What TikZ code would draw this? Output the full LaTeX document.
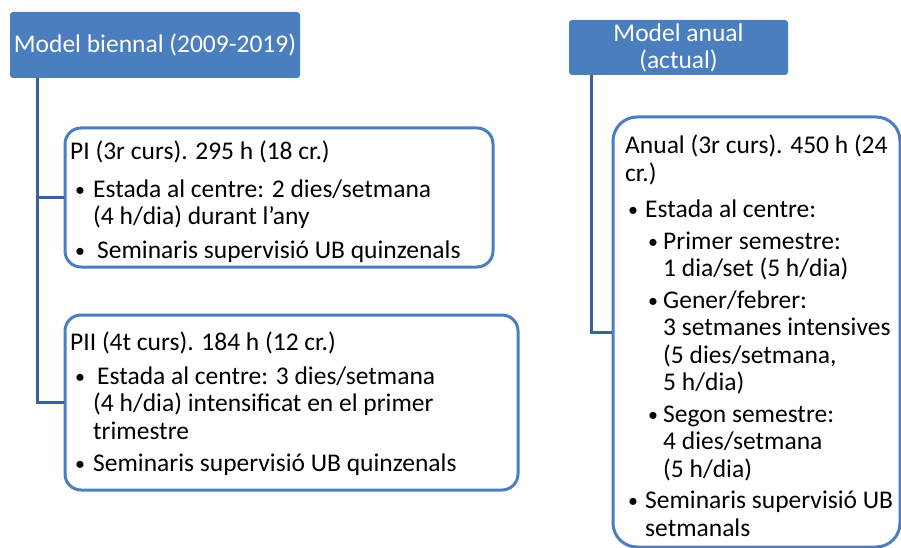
\documentclass[tikz,border=0pt]{standalone}
\usepackage{fontspec}
\setmainfont{Carlito}
\usetikzlibrary{positioning}
\definecolor{hdrblue}{RGB}{74,126,190}
\definecolor{edgeblue}{RGB}{74,126,193}
\definecolor{linkblue}{RGB}{58,98,150}
\newcommand{\bull}[2]{\makebox[#1][r]{\makebox[#2][l]{\raisebox{1pt}{\fontsize{20}{20}\selectfont\textbullet}}}}
\newcommand{\indt}[1]{\makebox[#1]{}}
\tikzset{
  hdr/.style={fill=hdrblue, rounded corners=3pt, text=white, align=center, inner sep=0pt,
    font=\fontsize{25.5}{27}\selectfont},
  card/.style={draw=edgeblue, line width=3pt, inner sep=0pt},
  txt/.style={anchor=north west, align=left, inner sep=0pt, text=black,
    font=\fontsize{25.5}{27.5}\selectfont},
  link/.style={draw=linkblue, line width=3pt},
}
\begin{document}
\begin{tikzpicture}[x=1pt,y=-1pt]
\useasboundingbox (0,0) rectangle (901,548);
\node[hdr, minimum width=290pt, minimum height=66pt] (bienn) at (155,45) {Model biennal (2009-2019)};
\node[hdr, minimum width=219pt, minimum height=55pt] (anu) at (678.5,47.5) {Model anual\\(actual)};

\node[card, rounded corners=16pt, minimum width=428pt, minimum height=139pt] (pi) at (279,197.5) {};
\node[card, rounded corners=16pt, minimum width=453pt, minimum height=175pt] (pii) at (291.5,402.5) {};
\node[card, rounded corners=24pt, minimum width=287pt, minimum height=430pt] (anual) at (756.5,332) {};

\coordinate (lx) at (37,0);
\coordinate (rx) at (591,0);
\draw[link] (bienn.south -| lx) |- (pii.west);
\draw[link] (lx |- pi.west) -- (pi.west);
\draw[link] (anu.south -| rx) |- (anual.west);

\node[txt] (pitxt) at (70,141) {PI (3r curs). 295 h (18 cr.)\\[10pt]
\bull{23pt}{18pt}Estada al centre: 2 dies/setmana\\
\indt{23pt}(4 h/dia) durant l’any\\[6pt]
\bull{23pt}{18pt}\hspace{4pt}Seminaris supervisió UB quinzenals};

\node[txt] (piitxt) at (70,332) {PII (4t curs). 184 h (12 cr.)\\[6pt]
\bull{23pt}{18pt}\hspace{4pt}Estada al centre: 3 dies/setmana\\
\indt{23pt}(4 h/dia) intensificat en el primer\\
\indt{23pt}trimestre\\[5pt]
\bull{23pt}{18pt}Seminaris supervisió UB quinzenals};

\node[txt] (anualtxt) at (625,135) {Anual (3r curs). 450 h (24\\
cr.)\\[9pt]
\bull{20pt}{17pt}Estada al centre:\\[4pt]
\bull{38pt}{15pt}Primer semestre:\\
\indt{38pt}1 dia/set (5 h/dia)\\[4pt]
\bull{38pt}{15pt}Gener/febrer:\\
\indt{38pt}3 setmanes intensives\\
\indt{38pt}(5 dies/setmana,\\
\indt{38pt}5 h/dia)\\[4pt]
\bull{38pt}{15pt}Segon semestre:\\
\indt{38pt}4 dies/setmana\\
\indt{38pt}(5 h/dia)\\[4pt]
\bull{20pt}{17pt}Seminaris supervisió UB\\
\indt{20pt}setmanals};
\end{tikzpicture}
\end{document}
